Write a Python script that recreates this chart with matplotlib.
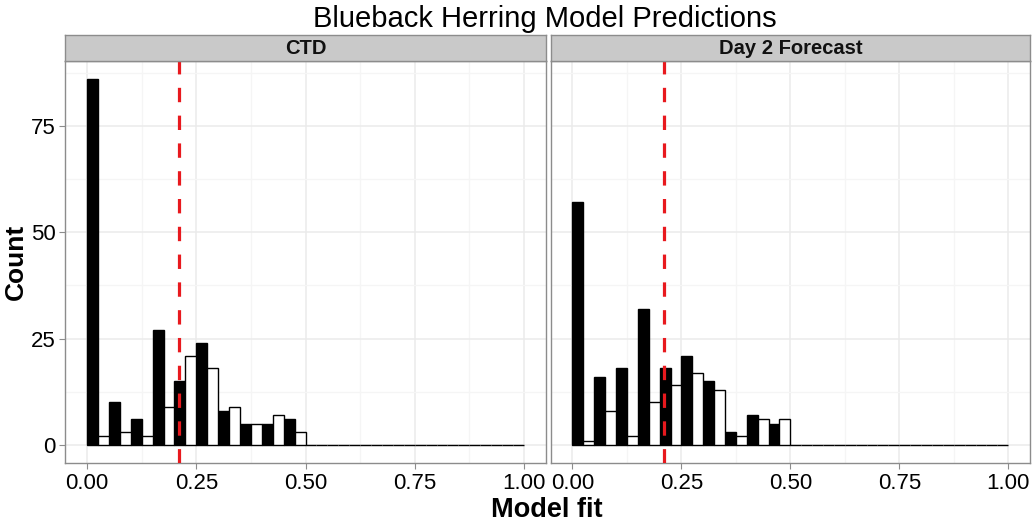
import numpy as np
import matplotlib.pyplot as plt
from matplotlib.ticker import MultipleLocator

plt.rcParams['font.family'] = ['Liberation Sans Narrow', 'Liberation Sans', 'DejaVu Sans']

# histogram bins: width 0.05 from 0 to 1
bin_edges = np.round(np.arange(0, 1.0001, 0.05), 2)
panels = ['CTD', 'Day 2 Forecast']
# black = first group, white = second group (counts per bin, zeros beyond 0.5)
ctd_black = [86, 10, 6, 27, 15, 24, 8, 5, 5, 6] + [0] * 10
ctd_white = [2, 3, 2, 9, 21, 18, 9, 5, 7, 3] + [0] * 10
day2_black = [57, 16, 18, 32, 18, 21, 15, 3, 7, 5] + [0] * 10
day2_white = [1, 8, 2, 10, 14, 17, 13, 2, 6, 6] + [0] * 10
threshold = 0.21

W, H = 1032, 522
fig = plt.figure(figsize=(W / 100, H / 100), dpi=100)

def px(x0, y0, x1, y1):
    return [x0 / W, 1 - y1 / H, (x1 - x0) / W, (y1 - y0) / H]

panel_px = [(65.3, 545.7), (550.7, 1030)]
series = [(ctd_black, ctd_white), (day2_black, day2_white)]
grid_col = '#EBEBEB'
border_col = '#8C8C8C'

for i, (name, (blk, wht)) in enumerate(zip(panels, series)):
    x0, x1 = panel_px[i]
    ax = fig.add_axes(px(x0, 60.7, x1, 463.3))
    left = bin_edges[:-1]
    ax.bar(left, blk, width=0.025, align='edge', color='black',
           edgecolor='black', linewidth=1, zorder=3)
    ax.bar(left + 0.025, wht, width=0.025, align='edge', color='white',
           edgecolor='black', linewidth=1, zorder=3)
    ax.axvline(threshold, color='#E8191E', linestyle=(0, (4.5, 4.2)),
               linewidth=2.3, zorder=4)
    ax.set_xlim(-0.05, 1.05)
    ax.set_ylim(-4.3, 90.3)
    ax.xaxis.set_major_locator(MultipleLocator(0.25))
    ax.xaxis.set_minor_locator(MultipleLocator(0.125))
    ax.yaxis.set_major_locator(MultipleLocator(25))
    ax.yaxis.set_minor_locator(MultipleLocator(12.5))
    ax.grid(which='major', color=grid_col, linewidth=1.1, zorder=0)
    ax.grid(which='minor', color='#F5F5F5', linewidth=0.9, zorder=0)
    ax.set_axisbelow(True)
    ax.set_xticks([0, 0.25, 0.5, 0.75, 1.0])
    ax.set_xticklabels(['0.00', '0.25', '0.50', '0.75', '1.00'])
    ax.tick_params(which='major', length=4, color=border_col, labelsize=16,
                   labelcolor='black', pad=3)
    ax.tick_params(which='minor', length=0)
    if i == 0:
        ax.set_yticks([0, 25, 50, 75])
        ax.set_ylabel('Count', fontsize=19, fontweight='bold', labelpad=2)
    else:
        ax.tick_params(axis='y', which='both', left=False, labelleft=False)
    for s in ax.spines.values():
        s.set_color(border_col)
        s.set_linewidth(1.0)

    # facet strip
    sax = fig.add_axes(px(x0, 34.7, x1, 60.7))
    sax.set_facecolor('#C9C9C9')
    sax.set_xticks([])
    sax.set_yticks([])
    for s in sax.spines.values():
        s.set_color(border_col)
        s.set_linewidth(1.0)
    sax.text(0.5, 0.45, name, transform=sax.transAxes, ha='center',
             va='center', fontsize=14.5, fontweight='bold', color='#111111')

fig.text(545 / W, 1 - 19 / H, 'Blueback Herring Model Predictions',
         ha='center', va='center', fontsize=21)
fig.text(547 / W, 1 - 517 / H, 'Model fit', ha='center', va='baseline',
         fontsize=19.5, fontweight='bold')

fig.savefig('out.png', dpi=100)
